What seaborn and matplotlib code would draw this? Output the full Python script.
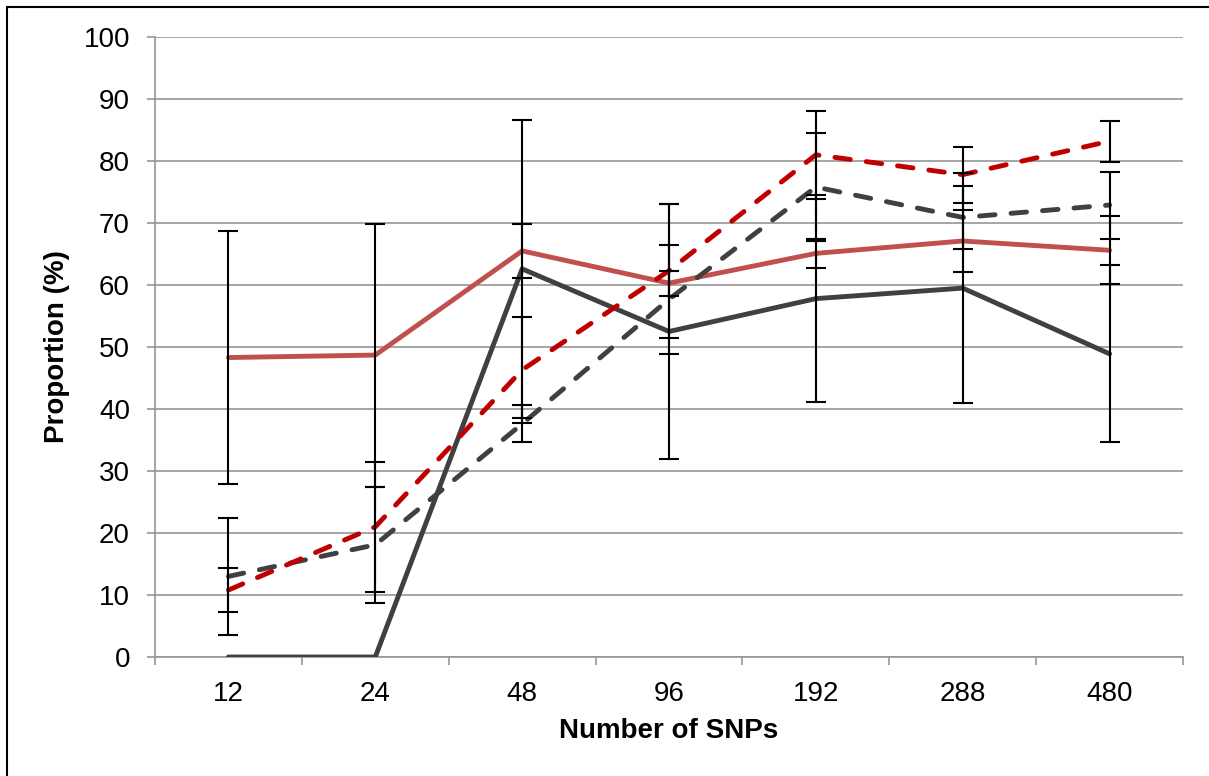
import matplotlib
matplotlib.use("Agg")
import matplotlib.pyplot as plt
import seaborn as sns
import pandas as pd
import numpy as np

categories = ["12", "24", "48", "96", "192", "288", "480"]

black_solid = [0, 0, 62.6, 52.5, 57.8, 59.5, 48.9]
black_solid_err = [0, 0, 24.0, 20.6, 16.7, 18.5, 14.3]

red_solid = [48.3, 48.7, 65.5, 60.3, 65.1, 67.1, 65.6]
red_solid_err = [20.4, 21.2, 4.3, 2.0, 2.3, 5.0, 5.5]

gray_dashed = [13.0, 18.1, 37.6, 57.7, 75.8, 70.9, 72.9]
gray_dashed_err = [9.5, 9.4, 3.0, 8.8, 8.7, 5.1, 5.4]

red_dashed = [10.8, 21.0, 46.3, 62.3, 81.0, 77.8, 83.2]
red_dashed_err = [3.6, 10.5, 8.6, 10.8, 7.1, 4.5, 3.3]

sns.set_theme(style="white")
plt.rcParams["font.family"] = ["Liberation Sans", "DejaVu Sans"]

fig = plt.figure(figsize=(12.09, 7.76), dpi=100)
ax = fig.add_axes([155/1209, 1 - 657/776, (1183-155)/1209, (657-37)/776])

pos = np.arange(len(categories))
series = [
    (black_solid, black_solid_err, "#404040", "solid"),
    (red_solid, red_solid_err, "#C0504D", "solid"),
    (gray_dashed, gray_dashed_err, "#404040", "dashed"),
    (red_dashed, red_dashed_err, "#C00000", "dashed"),
]

for vals, errs, col, ls in series:
    df = pd.DataFrame({"x": pos, "y": vals})
    sns.lineplot(data=df, x="x", y="y", ax=ax, color=col, linewidth=3.5, zorder=3)
    l = ax.lines[-1]
    if ls == "dashed":
        l.set_dashes([3.2, 3.3])
        l.set_dash_capstyle("round")
    l.set_solid_capstyle("round")

for vals, errs, col, ls in series:
    e = np.array(errs)
    mask = e > 0
    ax.errorbar(pos[mask], np.array(vals)[mask], yerr=e[mask], fmt="none",
                ecolor="black", elinewidth=1.5, capsize=7, capthick=1.5, zorder=4)

ax.set_xlim(-0.5, 6.5)
ax.set_ylim(0, 100)
ax.set_yticks(np.arange(0, 101, 10))
ax.yaxis.grid(True, color="#969696", linewidth=1.2)
ax.set_axisbelow(True)

ax.set_xticks(np.arange(-0.5, 7, 1))
ax.set_xticklabels([])
ax.set_xticks(pos, minor=True)
ax.set_xticklabels(categories, minor=True)
ax.tick_params(axis="x", which="major", direction="out", length=6, width=1.2,
               color="#969696", bottom=True)
ax.tick_params(axis="x", which="minor", length=0, pad=17, labelsize=20, colors="black")
ax.tick_params(axis="y", direction="out", length=6, width=1.2, color="#969696",
               left=True, labelsize=20, pad=12, labelcolor="black")

for s in ["top", "right"]:
    ax.spines[s].set_visible(False)
for s in ["left", "bottom"]:
    ax.spines[s].set_color("#969696")
    ax.spines[s].set_linewidth(1.2)

ax.set_xlabel("Number of SNPs", fontsize=20, fontweight="bold", labelpad=8, color="black")
ax.set_ylabel("Proportion (%)", fontsize=20, fontweight="bold", labelpad=10, color="black")

fig.add_artist(plt.Line2D([7/1209, 7/1209], [0, 1 - 7/776], transform=fig.transFigure,
                          color="black", linewidth=1.5))
fig.add_artist(plt.Line2D([7/1209, 1], [1 - 7/776, 1 - 7/776], transform=fig.transFigure,
                          color="black", linewidth=1.5))

fig.savefig("out.png", dpi=100)
